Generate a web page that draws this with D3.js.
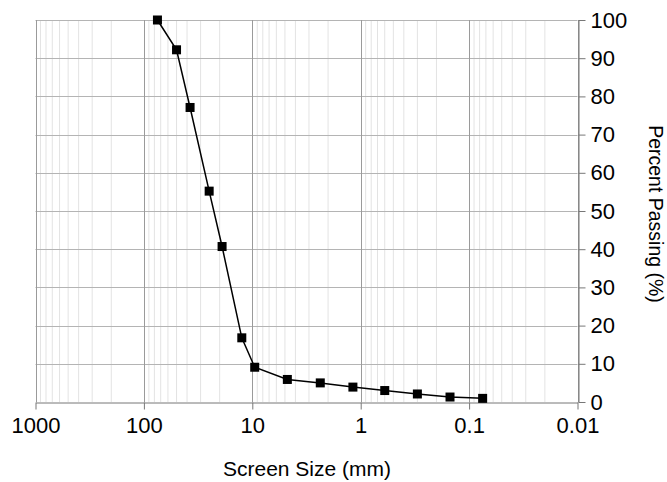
<!DOCTYPE html>
<html>
<head>
<meta charset="utf-8">
<script src="https://cdn.jsdelivr.net/npm/d3@7"></script>
<style>
  html, body { margin: 0; padding: 0; background: #fff; }
  svg { display: block; font-family: Arial, "Liberation Sans", sans-serif; }
</style>
</head>
<body>
<svg id="chart" width="667" height="482"></svg>
<script>
// Sieve analysis: screen size (mm) vs percent passing
const screenSize = [75, 50, 37.5, 25, 19, 12.5, 9.5, 4.75, 2.36, 1.18, 0.6, 0.3, 0.15, 0.075];
const percentPassing = [100, 92.2, 77.1, 55.2, 40.7, 16.8, 9.1, 5.9, 5.0, 3.9, 3.0, 2.1, 1.3, 0.95];
const xTickValues = [1000, 100, 10, 1, 0.1, 0.01];
const xTickLabels = ["1000", "100", "10", "1", "0.1", "0.01"];
const yTickValues = [0, 10, 20, 30, 40, 50, 60, 70, 80, 90, 100];

const margin = { left: 35.5, right: 89.5, top: 20, bottom: 80 };
const W = 667, H = 482;
const svg = d3.select("#chart");

const x = d3.scaleLog().domain([1000, 0.01]).range([margin.left, W - margin.right]);
const y = d3.scaleLinear().domain([0, 100]).range([H - margin.bottom, margin.top]);

// minor log grid lines (2..9 within each decade)
const minor = [];
for (let e = -2; e < 3; e++) {
  for (let m = 2; m <= 9; m++) minor.push(m * Math.pow(10, e));
}
svg.append("g").selectAll("line").data(minor).join("line")
  .attr("x1", d => x(d)).attr("x2", d => x(d))
  .attr("y1", y(0)).attr("y2", y(100))
  .attr("stroke", "#e3e3e3").attr("stroke-width", 1);

// horizontal grid
svg.append("g").selectAll("line").data(yTickValues.slice(1)).join("line")
  .attr("x1", x(1000)).attr("x2", x(0.01))
  .attr("y1", d => Math.round(y(d)) + 0.5).attr("y2", d => Math.round(y(d)) + 0.5)
  .attr("stroke", "#b4b4b4").attr("stroke-width", 1);

// major vertical grid
svg.append("g").selectAll("line").data(xTickValues).join("line")
  .attr("x1", d => Math.round(x(d)) + 0.5).attr("x2", d => Math.round(x(d)) + 0.5)
  .attr("y1", y(0)).attr("y2", y(100))
  .attr("stroke", "#9a9a9a").attr("stroke-width", 1);

// bottom axis
const xAxis = d3.axisBottom(x).tickValues(xTickValues)
  .tickFormat((d, i) => xTickLabels[i]).tickSize(7).tickSizeOuter(0).tickPadding(8);
const gx = svg.append("g").attr("transform", `translate(0,${Math.round(y(0)) + 0.5})`).call(xAxis);
gx.select(".domain").attr("stroke", "#777");
gx.selectAll(".tick line").attr("stroke", "#777");
gx.selectAll(".tick text").attr("font-size", 22).attr("fill", "#000")
  .attr("font-family", "Arial, 'Liberation Sans', sans-serif");

// right axis
const yAxis = d3.axisRight(y).tickValues(yTickValues).tickSize(7).tickSizeOuter(0).tickPadding(5);
const gy = svg.append("g").attr("transform", `translate(${Math.round(x(0.01)) + 0.5},0)`).call(yAxis);
gy.select(".domain").attr("stroke", "#777");
gy.selectAll(".tick line").attr("stroke", "#777");
gy.selectAll(".tick text").attr("font-size", 22).attr("fill", "#000")
  .attr("font-family", "Arial, 'Liberation Sans', sans-serif");

// data line and markers
const pts = screenSize.map((s, i) => [s, percentPassing[i]]);
svg.append("path").datum(pts)
  .attr("fill", "none").attr("stroke", "#000").attr("stroke-width", 1.5)
  .attr("d", d3.line().x(d => x(d[0])).y(d => y(d[1])));
svg.append("g").selectAll("rect").data(pts).join("rect")
  .attr("x", d => x(d[0]) - 4.5).attr("y", d => y(d[1]) - 4.5)
  .attr("width", 9).attr("height", 9).attr("fill", "#000");

// axis titles
svg.append("text").attr("x", (x(1000) + x(0.01)) / 2 + 0.5).attr("y", 476)
  .attr("text-anchor", "middle").attr("font-size", 21).attr("fill", "#000")
  .text("Screen Size (mm)");
svg.append("text")
  .attr("transform", `translate(649,${(y(0) + y(100)) / 2 + 3}) rotate(90)`)
  .attr("text-anchor", "middle").attr("font-size", 19.5).attr("fill", "#000")
  .text("Percent Passing (%)");
</script>
</body>
</html>
